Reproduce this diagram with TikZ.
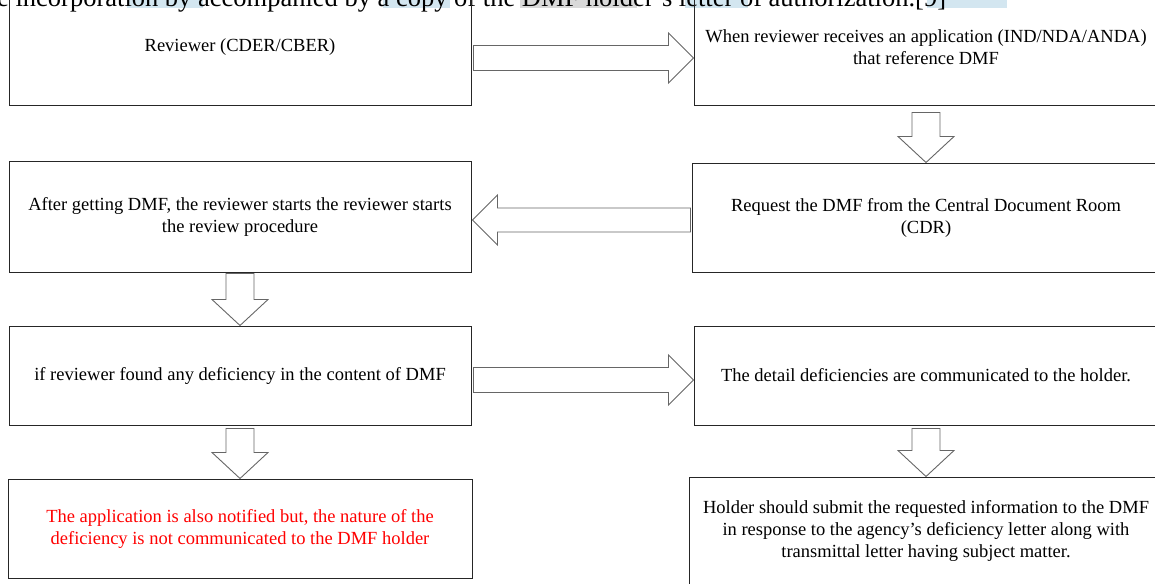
\documentclass[tikz,border=0pt]{standalone}
\usepackage{fontspec}
\setmainfont{Liberation Serif}
\definecolor{hlblue}{RGB}{211,230,240}
\definecolor{hlgray}{RGB}{217,217,217}

% block arrows, #1 = tail, #2 = tip
\newcommand{\blockright}[2]{\draw[blk] (#2) -- ([shift={(-25pt,25pt)}]#2) -- ([shift={(-25pt,12.5pt)}]#2) -- ([yshift=12.5pt]#1) -- ([yshift=-12.5pt]#1) -- ([shift={(-25pt,-12.5pt)}]#2) -- ([shift={(-25pt,-25pt)}]#2) -- cycle;}
\newcommand{\blockleft}[2]{\draw[blk] (#2) -- ([shift={(25pt,25pt)}]#2) -- ([shift={(25pt,12pt)}]#2) -- ([yshift=12pt]#1) -- ([yshift=-12pt]#1) -- ([shift={(25pt,-12pt)}]#2) -- ([shift={(25pt,-25pt)}]#2) -- cycle;}
\newcommand{\blockdown}[2]{\draw[blk] (#2) -- ([shift={(28pt,26pt)}]#2) -- ([shift={(14pt,26pt)}]#2) -- ([xshift=14pt]#1) -- ([xshift=-14pt]#1) -- ([shift={(-14pt,26pt)}]#2) -- ([shift={(-28pt,26pt)}]#2) -- cycle;}

\begin{document}
\begin{tikzpicture}[x=1pt,y=-1pt,
    box/.style={draw=black!85,line width=1pt,minimum width=462pt,align=center,inner sep=0pt,font=\fontsize{18.5}{22}\selectfont},
    blk/.style={draw=black!60,line width=0.9pt,fill=white,line join=miter}]
    \useasboundingbox (0,0) rectangle (1155,583);
    \clip (0,0) rectangle (1155,583);
    % cut line of the page above
    \fill[hlblue] (127,0) rectangle (203,8.5);
    \fill[hlblue] (383,0) rectangle (450,8.5);
    \fill[hlgray] (520,0) rectangle (637,8.5);
    \fill[hlblue] (685,0) rectangle (748,8.5);
    \fill[hlblue] (927,0) rectangle (1007,8.5);
    \node[anchor=base west,inner sep=0pt,font=\fontsize{26.5}{30}\selectfont] (cut) at (-3,7) {e incorporation by accompanied by a copy of the DMF holder’s letter of authorization.[9]};
    % boxes
    \node[box,minimum height=118pt] (rev) at (240,47) {Reviewer (CDER/CBER)};
    \node[box,minimum width=464pt,minimum height=118pt] (recv) at (926,47) {When reviewer receives an application (IND/NDA/ANDA)\\that reference DMF};
    \node[box,minimum height=111pt] (after) at (240,216.5) {After getting DMF, the reviewer starts the reviewer starts\\the review procedure};
    \node[box,minimum width=468pt,minimum height=109pt] (req) at (926,217.5) {Request the DMF from the Central Document Room\\(CDR)};
    \node[box,minimum height=99pt] (found) at (240,375.5) {if reviewer found any deficiency in the content of DMF};
    \node[box,minimum width=464pt,minimum height=99pt] (detail) at (926,375.5) {The detail deficiencies are communicated to the holder.};
    \node[box,minimum width=464pt,minimum height=99pt,text=red] (notif) at (240,528.5) {The application is also notified but, the nature of the\\deficiency is not communicated to the DMF holder};
    \node[box,minimum width=474pt,minimum height=108pt] (submit) at (926,531) {Holder should submit the requested information to the DMF\\in response to the agency’s deficiency letter along with\\transmittal letter having subject matter.};
    % arrow ends
    \coordinate (rev-out) at ([xshift=2pt,yshift=-11pt]rev.east);
    \coordinate (recv-in) at ([yshift=-11pt]recv.west);
    \coordinate (recv-out) at ([yshift=-6pt]recv.south);
    \coordinate (req-out) at ([xshift=-1pt,yshift=-2.5pt]req.west);
    \coordinate (after-in) at ([xshift=1pt,yshift=-3.5pt]after.east);
    \coordinate (after-out) at ([yshift=-1pt]after.south);
    \coordinate (found-out) at ([xshift=2pt,yshift=-4.5pt]found.east);
    \coordinate (detail-in) at ([yshift=-4.5pt]detail.west);
    \coordinate (found-down) at ([yshift=-3pt]found.south);
    \coordinate (detail-down) at ([yshift=-3pt]detail.south);
    % block arrows
    \blockright{rev-out}{recv-in}
    \blockdown{recv-out}{req.north}
    \blockleft{req-out}{after-in}
    \blockdown{after-out}{found.north}
    \blockright{found-out}{detail-in}
    \blockdown{found-down}{notif.north}
    \blockdown{detail-down}{submit.north}
\end{tikzpicture}
\end{document}
